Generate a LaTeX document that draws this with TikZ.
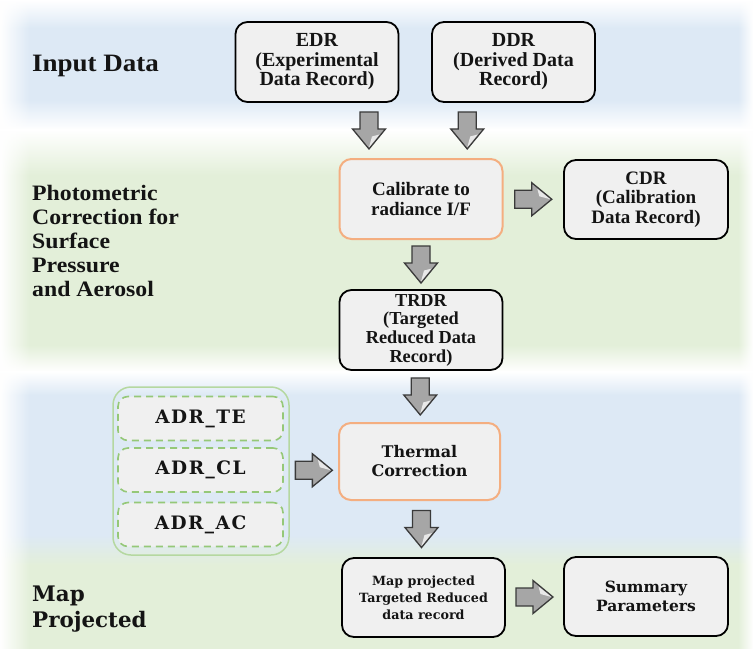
\documentclass[tikz,border=0pt]{standalone}
\usepackage{fontspec}
\setmainfont{Liberation Serif}
\newfontfamily\headfont[FakeStretch=1.08]{Liberation Serif}
\newfontfamily\widefont{DejaVu Serif}
\newfontfamily\spacedfont[LetterSpace=8]{DejaVu Serif}
\usetikzlibrary{calc,fadings}
\definecolor{bandblue}{HTML}{DDE9F5}
\definecolor{bandgreen}{HTML}{E3EFD9}
\definecolor{boxfill}{HTML}{F0F0F0}
\definecolor{orangeb}{HTML}{F4AE80}
\definecolor{contgreen}{HTML}{B5D8A0}
\definecolor{dashgreen}{HTML}{95C878}
\definecolor{arrowfill}{HTML}{A6A6A6}
\definecolor{arrowdraw}{HTML}{3A3A3A}
\definecolor{txt}{HTML}{141414}
\tikzset{
  box/.style={draw=black, line width=1.8, rounded corners=12, fill=boxfill,
    minimum width=163, minimum height=80, align=center, inner sep=0,
    text=txt, font=\fontsize{19}{19.5}\selectfont\bfseries},
  obox/.style={box, draw=orangeb, line width=2},
  wbox/.style={box, font=\widefont\fontsize{15.5}{19}\selectfont\bfseries},
  dbox/.style={draw=dashgreen, dashed, dash pattern=on 7 off 5, line width=1.6,
    rounded corners=10, fill=boxfill, minimum width=165, minimum height=44,
    inner sep=0, text=txt, font=\spacedfont\fontsize{18.5}{19}\selectfont\bfseries},
  contbox/.style={draw=contgreen, line width=1.5, rounded corners=18,
    minimum width=176, minimum height=168, inner sep=0},
  heading/.style={anchor=west, align=left, inner sep=0, text=txt,
    font=\headfont\fontsize{22}{24}\selectfont\bfseries},
  arrowst/.style={fill=arrowfill, draw=arrowdraw, line width=1.3, line join=miter},
  blockarrow/.pic={
    \draw[arrowst] (-18.5,-9) -- (-1.5,-9) -- (-1.5,-16.5) -- (18.5,0)
      -- (-1.5,16.5) -- (-1.5,9) -- (-18.5,9) -- cycle;
    \fill[white, opacity=.75] (17,0) -- (4,-10.5) -- (6,-3) -- cycle;
  }
}
\begin{document}
\begin{tikzpicture}[x=1pt,y=-1pt]
\useasboundingbox (0,0) rectangle (753,649);
% background bands
\fill[white] (0,0) rectangle (753,649);
\shade[top color=white, bottom color=bandblue] (0,0) rectangle (753,28);
\fill[bandblue] (0,27.5) rectangle (753,100.5);
\shade[top color=bandblue, bottom color=white] (0,100) rectangle (753,130);
\shade[top color=white, bottom color=bandgreen] (0,129.5) rectangle (753,175);
\fill[bandgreen] (0,174.5) rectangle (753,345.5);
\shade[top color=bandgreen, bottom color=white] (0,345) rectangle (753,372);
\shade[top color=white, bottom color=bandblue] (0,371.5) rectangle (753,395);
\fill[bandblue] (0,394.5) rectangle (753,535.5);
\shade[top color=bandblue, bottom color=bandgreen] (0,535) rectangle (753,565);
\fill[bandgreen] (0,564.5) rectangle (753,649);
\fill[white, path fading=east] (0,0) rectangle (30,649);
\fill[white, path fading=west] (738,0) rectangle (753,649);

% headings
\node[heading, font=\headfont\fontsize{25}{26}\selectfont\bfseries] (hin) at (32,66) {Input Data};
\node[heading] (hph) at (32,241) {Photometric\\Correction for\\Surface\\Pressure\\and Aerosol};
\node[heading, font=\widefont\fontsize{21.4}{26}\selectfont\bfseries] (hmp) at (32,609) {Map\\Projected};

% boxes
\node[box, font=\fontsize{20}{19.5}\selectfont\bfseries] (edr) at (317,62) {EDR\\(Experimental\\Data Record)};
\node[box, font=\fontsize{20}{19.5}\selectfont\bfseries] (ddr) at (513.5,62) {DDR\\(Derived Data\\Record)};
\node[obox] (cal) at (421,199) {Calibrate to\\radiance I/F};
\node[box, minimum width=164, minimum height=79] (cdr) at (646,199.5) {CDR\\(Calibration\\Data Record)};
\node[box, font=\fontsize{18.3}{18.7}\selectfont\bfseries] (trdr) at (421,330) {TRDR\\(Targeted\\Reduced Data\\Record)};
\node[obox, font=\widefont\fontsize{16}{19}\selectfont\bfseries, minimum width=161, minimum height=77] (therm) at (419.5,461.5) {Thermal\\Correction};
\node[contbox] (cont) at (201,471) {};
\node[dbox] (adrte) at (200.5,418.5) {ADR\_TE};
\node[dbox] (adrcl) at (200.5,470) {ADR\_CL};
\node[dbox] (adrac) at (200.5,524.5) {ADR\_AC};
\node[wbox, font=\widefont\fontsize{12.7}{17}\selectfont\bfseries, minimum width=163, minimum height=79] (map) at (423.5,597.5) {Map projected\\Targeted Reduced\\data record};
\node[wbox, minimum width=164, minimum height=79] (sum) at (646,596.5) {Summary\\Parameters};

% block arrows (connectors)
\pic[rotate=-90] at ($(edr.south)!.5!(cal.north)$) {blockarrow};
\pic[rotate=-90] at ($(ddr.south)!.5!(cal.north)$) {blockarrow};
\pic at ($(cal.east)!.5!(cdr.west)$) {blockarrow};
\pic[rotate=-90] at ($(cal.south)!.5!(trdr.north)$) {blockarrow};
\pic[rotate=-90] at ($(trdr.south)!.5!(therm.north)$) {blockarrow};
\pic at ($($(cont.east)!.5!(therm.west)$)+(0,4)$) {blockarrow};
\pic[rotate=-90] at ($(therm.south)!.5!(map.north)$) {blockarrow};
\pic at ($(map.east)!.5!(sum.west)$) {blockarrow};
\end{tikzpicture}
\end{document}
